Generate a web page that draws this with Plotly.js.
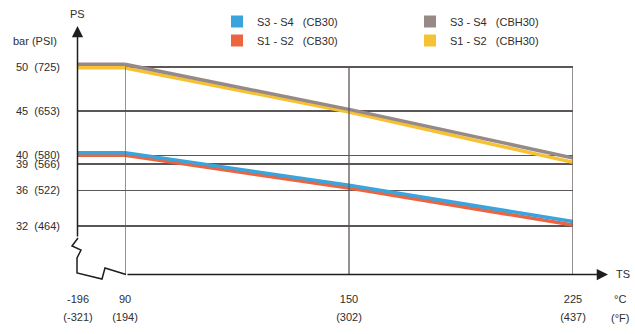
<!DOCTYPE html>
<html>
<head>
<meta charset="utf-8">
<script src="https://cdn.plot.ly/plotly-3.0.1.min.js"></script>
<style>html,body{margin:0;padding:0;background:#fff;}#chart{width:635px;height:334px;}</style>
</head>
<body>
<div id="chart"></div>
<script>
// ---- data ----
const tempC = [-196, 90, 150, 225];
const tempF = [-321, 194, 302, 437];
const barTicks = [32, 36, 39, 40, 45, 50];
const psiTicks = [464, 522, 566, 580, 653, 725];
const seriesNames = ["S3 - S4   (CB30)", "S3 - S4   (CBH30)", "S1 - S2   (CB30)", "S1 - S2   (CBH30)"];
const s34_cb30  = [40.3, 40.3, 36.6, 32.5];
const s34_cbh30 = [50.3, 50.3, 45.2, 39.7];
const s12_cb30  = [40.0, 40.0, 36.3, 32.1];
const s12_cbh30 = [49.9, 49.9, 44.9, 39.2];

const colors = {
  s34_cb30: "#3aa4dd",
  s34_cbh30: "#978a86",
  s12_cb30: "#ec6440",
  s12_cbh30: "#f6c234"
};

// ---- geometry helpers (plot area in px) ----
const W = 635, H = 334;
const L = 78, R = 573, T = 20, B = 274;
const PW = R - L, PH = B - T;
function P(px, py) { return { x: (px - L) / PW, y: (B - py) / PH }; }
const xSplit = (125 - L) / PW;

const nb = s => s.replace(/ /g, "\u00a0");
const catX = tempC.slice(1).map(String);

const series = [
  { name: seriesNames[2], vals: s12_cb30, color: colors.s12_cb30 },
  { name: seriesNames[0], vals: s34_cb30, color: colors.s34_cb30 },
  { name: seriesNames[3], vals: s12_cbh30, color: colors.s12_cbh30 },
  { name: seriesNames[1], vals: s34_cbh30, color: colors.s34_cbh30 }
];

const traces = [];
series.forEach(s => {
  traces.push({
    type: "scatter", mode: "lines", xaxis: "x", yaxis: "y",
    x: tempC.slice(0, 2), y: s.vals.slice(0, 2),
    line: { color: s.color, width: 3.5 }, showlegend: false, hoverinfo: "skip"
  });
  traces.push({
    type: "scatter", mode: "lines", xaxis: "x2", yaxis: "y",
    x: catX, y: s.vals.slice(1),
    line: { color: s.color, width: 3.5 }, showlegend: false, hoverinfo: "skip"
  });
});
// legend entries (square swatches), order: row1 blue, grey ; row2 red, yellow
[
  [seriesNames[0], colors.s34_cb30],
  [seriesNames[1], colors.s34_cbh30],
  [seriesNames[2], colors.s12_cb30],
  [seriesNames[3], colors.s12_cbh30]
].forEach(([n, c]) => {
  traces.push({
    type: "scatter", mode: "markers", xaxis: "x2", yaxis: "y",
    x: [null], y: [null], name: nb(n),
    marker: { symbol: "square", size: 12, color: c }, hoverinfo: "skip"
  });
});

const yMin = 26.56, yMax = 55.32;
const gridCol = "#5c5757";
const txtCol = "#2e2e2e";
const sp = t => '<span style="font-size:11px">' + t + '</span>';

const shapes = [];
// vertical grid lines at 90, 150, 225 (category index positions)
catX.forEach((c, i) => {
  shapes.push({ type: "line", xref: "x2", yref: "y", x0: i, x1: i, y0: yMin, y1: 50,
    line: { color: gridCol, width: 1.3 } });
});
// axis break zigzag (decoration)
const zz = [[78,238],[72,246],[81,250],[77,258],[77,273],[102,279],[105,268],[126,274.5]];
shapes.push({ type: "path", xref: "paper", yref: "paper",
  path: zz.map((p, i) => { const q = P(p[0], p[1]); return (i ? "L" : "M") + q.x.toFixed(4) + "," + q.y.toFixed(4); }).join(" "),
  line: { color: "#1e1e1e", width: 1.5 } });

const a = (px, py, text, extra) => Object.assign({ xref: "paper", yref: "paper", x: P(px, py).x, y: P(px, py).y,
  text: text, showarrow: false, font: { size: 11, color: txtCol }, xanchor: "center", yanchor: "middle" }, extra || {});

const annotations = [
  // y axis arrow
  { xref: "paper", yref: "paper", x: P(77.5, 26).x, y: P(77.5, 26).y, ax: 0, ay: 212, text: "",
    showarrow: true, arrowhead: 2, arrowsize: 1.5, arrowwidth: 1.5, arrowcolor: "#1e1e1e" },
  // x axis arrow
  { xref: "paper", yref: "paper", x: P(608, 274.5).x, y: P(608, 274.5).y, ax: -482, ay: 0, text: "",
    showarrow: true, arrowhead: 2, arrowsize: 1.5, arrowwidth: 1.5, arrowcolor: "#1e1e1e" },
  a(77, 14, "PS"),
  a(35, 41, "bar (PSI)"),
  a(623, 274, "TS"),
  a(620, 299, "°C"),
  a(620, 318, "(°F)")
];

const layout = {
  width: W, height: H,
  margin: { l: L, r: W - R, t: T, b: H - B, pad: 0, autoexpand: false },
  paper_bgcolor: "#ffffff", plot_bgcolor: "#ffffff",
  font: { family: "Liberation Sans, Arial, sans-serif", size: 11, color: txtCol },
  showlegend: true,
  legend: { orientation: "h", entrywidth: 148, entrywidthmode: "pixels",
    x: P(217, 0).x, y: P(0, 7).y, xanchor: "left", yanchor: "top",
    font: { size: 11, color: txtCol }, bgcolor: "rgba(0,0,0,0)", traceorder: "normal" },
  xaxis: { domain: [0, xSplit], range: [tempC[0], tempC[1]], showgrid: false, zeroline: false, showline: false,
    tickmode: "array", tickvals: [tempC[0]], ticktext: [sp(tempC[0]) + "<br>" + sp("(" + tempF[0] + ")")],
    tickfont: { size: 14.5, color: txtCol }, ticks: "", ticklabelstandoff: 13, fixedrange: true },
  xaxis2: { domain: [xSplit, 1], type: "category", range: [0, catX.length - 1], anchor: "y",
    showgrid: false, zeroline: false, showline: false,
    tickmode: "array", tickvals: catX,
    ticktext: tempC.slice(1).map((c, i) => sp(c) + "<br>" + sp("(" + tempF[i + 1] + ")")),
    tickfont: { size: 14.5, color: txtCol }, ticks: "", ticklabelstandoff: 13, fixedrange: true },
  yaxis: { anchor: "x", range: [yMin, yMax], showline: false, zeroline: false,
    showgrid: true, gridcolor: gridCol, gridwidth: 1.3,
    tickmode: "array", tickvals: barTicks,
    ticktext: barTicks.map((b, i) => nb(b + "  (" + psiTicks[i] + ")")),
    tickfont: { size: 11, color: txtCol }, ticks: "", ticklabelstandoff: 17, fixedrange: true },
  shapes: shapes,
  annotations: annotations
};

Plotly.newPlot("chart", traces, layout, { displayModeBar: false, staticPlot: true });
</script>
</body>
</html>
